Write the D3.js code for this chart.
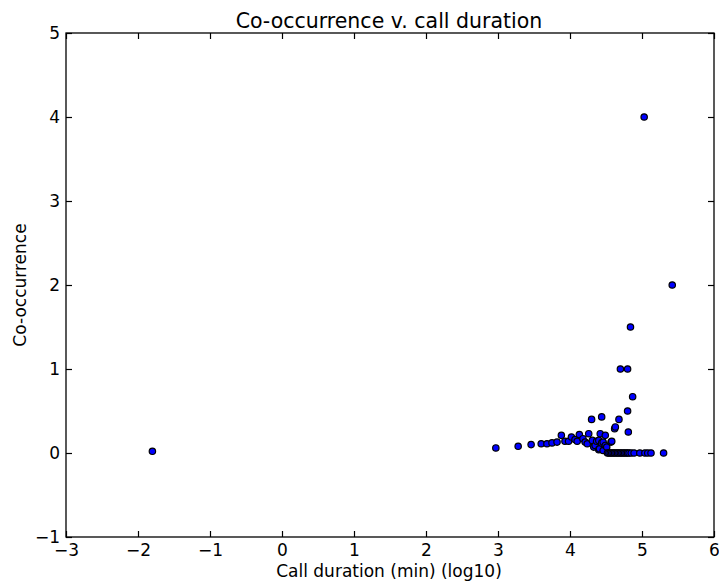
<!DOCTYPE html>
<html>
<head>
<meta charset="utf-8">
<script src="https://cdn.jsdelivr.net/npm/d3@7"></script>
<style>
  html, body { margin: 0; padding: 0; background: #fff; }
  text { font-family: "DejaVu Sans", sans-serif; fill: #000; }
</style>
</head>
<body>
<svg id="chart" width="719" height="584"></svg>
<script>
// Data: call duration (log10 min) vs co-occurrence
const durations = [
  -1.80,
  2.97, 3.28, 3.46, 3.60, 3.68, 3.75, 3.82, 3.88, 3.93, 3.98, 4.02, 4.07, 4.10, 4.13, 4.18,
  4.21, 4.24, 4.26, 4.30, 4.31, 4.33, 4.35, 4.37, 4.40, 4.40, 4.41, 4.42, 4.44, 4.44, 4.46,
  4.46, 4.49, 4.49, 4.51, 4.57, 4.58, 4.62, 4.63, 4.68, 4.80, 4.81, 4.87,
  4.70, 4.80, 4.84, 5.03, 5.42,
  4.52, 4.54, 4.56, 4.58, 4.60, 4.62, 4.64, 4.66, 4.68, 4.70, 4.72, 4.74, 4.76, 4.78, 4.80,
  4.82, 4.85, 4.89, 4.97, 5.04, 5.08, 5.125, 5.30
];
const cooccurrence = [
  0.02,
  0.06, 0.08, 0.10, 0.11, 0.11, 0.12, 0.13, 0.21, 0.14, 0.14, 0.19, 0.16, 0.14, 0.22, 0.17,
  0.13, 0.11, 0.23, 0.40, 0.15, 0.07, 0.09, 0.14, 0.15, 0.04, 0.05, 0.23, 0.43, 0.12, 0.13,
  0.03, 0.21, 0.09, 0.07, 0.13, 0.14, 0.29, 0.31, 0.40, 0.50, 0.25, 0.67,
  1.0, 1.0, 1.5, 4.0, 2.0,
  0, 0, 0, 0, 0, 0, 0, 0, 0, 0, 0, 0, 0, 0, 0,
  0, 0, 0, 0, 0, 0, 0, 0
];
const xTicks = [-3, -2, -1, 0, 1, 2, 3, 4, 5, 6];
const yTicks = [-1, 0, 1, 2, 3, 4, 5];

const svg = d3.select("#chart");
const m = { left: 66, right: 714, top: 33, bottom: 537 };

const x = d3.scaleLinear().domain([-3, 6]).range([m.left, m.right]);
const y = d3.scaleLinear().domain([-1, 5]).range([m.bottom, m.top]);

const fmt = d => d < 0 ? "\u2212" + Math.abs(d) : String(d);
const TS = 6;

const gx = svg.append("g").attr("transform", `translate(0,${m.bottom})`)
  .call(d3.axisBottom(x).tickValues(xTicks).tickSizeInner(-TS).tickSizeOuter(0).tickPadding(7).tickFormat(fmt));
const gxt = svg.append("g").attr("transform", `translate(0,${m.top})`)
  .call(d3.axisTop(x).tickValues(xTicks).tickSizeInner(-TS).tickSizeOuter(0).tickFormat(""));
const gy = svg.append("g").attr("transform", `translate(${m.left},0)`)
  .call(d3.axisLeft(y).tickValues(yTicks).tickSizeInner(-TS).tickSizeOuter(0).tickPadding(6).tickFormat(fmt));
const gyr = svg.append("g").attr("transform", `translate(${m.right},0)`)
  .call(d3.axisRight(y).tickValues(yTicks).tickSizeInner(-TS).tickSizeOuter(0).tickFormat(""));

[gx, gxt, gy, gyr].forEach(g => {
  g.select(".domain").remove();
  g.selectAll(".tick line").attr("stroke", "#000").attr("stroke-width", 1.2);
  g.selectAll(".tick text").attr("font-size", 17).attr("font-family", "DejaVu Sans").attr("fill", "#000");
});

svg.append("rect")
  .attr("x", m.left).attr("y", m.top)
  .attr("width", m.right - m.left).attr("height", m.bottom - m.top)
  .attr("fill", "none").attr("stroke", "#000").attr("stroke-width", 1.3);

const pts = durations.map((d, i) => ({ x: d, y: cooccurrence[i] }));
svg.append("g").selectAll("circle").data(pts).join("circle")
  .attr("cx", d => x(d.x)).attr("cy", d => y(d.y)).attr("r", 3.2)
  .attr("fill", "#0000ff").attr("stroke", "#000").attr("stroke-width", 1.2);

svg.append("text").attr("x", 389).attr("y", 28)
  .attr("text-anchor", "middle").attr("font-size", 20.5).text("Co-occurrence v. call duration");
svg.append("text").attr("x", 389).attr("y", 577)
  .attr("text-anchor", "middle").attr("font-size", 17).text("Call duration (min) (log10)");
svg.append("text").attr("transform", `translate(26,${(m.top + m.bottom) / 2}) rotate(-90)`)
  .attr("text-anchor", "middle").attr("font-size", 17).text("Co-occurrence");
</script>
</body>
</html>
